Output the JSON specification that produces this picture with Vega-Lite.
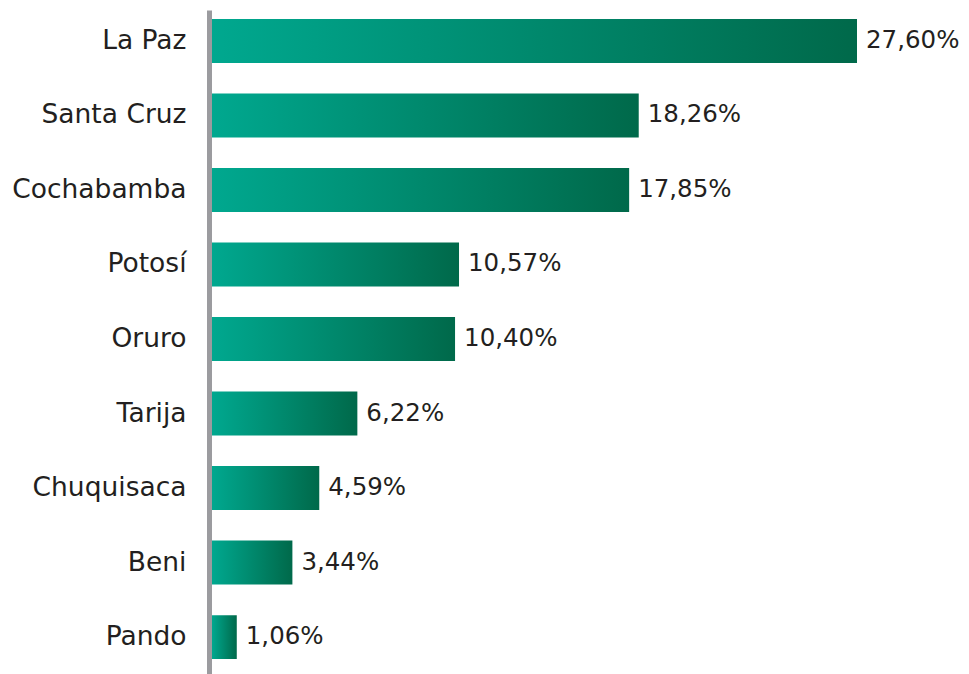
{
  "$schema": "https://vega.github.io/schema/vega-lite/v6.json",
  "width": 645,
  "height": 664,
  "autosize": "none",
  "padding": {"left": 212, "top": 10, "right": 112, "bottom": 0},
  "background": "white",
  "data": {"values": [
    {"dept": "La Paz", "value": 27.60, "label": "27,60%"},
    {"dept": "Santa Cruz", "value": 18.26, "label": "18,26%"},
    {"dept": "Cochabamba", "value": 17.85, "label": "17,85%"},
    {"dept": "Potosí", "value": 10.57, "label": "10,57%"},
    {"dept": "Oruro", "value": 10.40, "label": "10,40%"},
    {"dept": "Tarija", "value": 6.22, "label": "6,22%"},
    {"dept": "Chuquisaca", "value": 4.59, "label": "4,59%"},
    {"dept": "Beni", "value": 3.44, "label": "3,44%"},
    {"dept": "Pando", "value": 1.06, "label": "1,06%"}
  ]},
  "encoding": {
    "y": {"field": "dept", "type": "nominal", "sort": null,
      "scale": {"paddingInner": 0.41, "paddingOuter": 0.16, "align": 0.375},
      "axis": {"title": null, "ticks": false, "domain": true, "domainColor": "#9b9b9f", "domainWidth": 5, "offset": 3,
        "labelFont": "DejaVu Sans", "labelFontSize": 26.5, "labelColor": "#231f20", "labelPadding": 23}},
    "x": {"field": "value", "type": "quantitative",
      "scale": {"domain": [0, 27.6], "nice": false},
      "axis": null}
  },
  "layer": [
    {"mark": {"type": "bar", "color": {"gradient": "linear", "x1": 0, "y1": 0, "x2": 1, "y2": 0,
      "stops": [{"offset": 0, "color": "#00a88f"}, {"offset": 1, "color": "#00694a"}]}}},
    {"mark": {"type": "text", "align": "left", "baseline": "middle", "dx": 9, "font": "DejaVu Sans", "fontSize": 24.5, "color": "#231f20"},
     "encoding": {"text": {"field": "label"}}}
  ],
  "config": {"view": {"stroke": null}}
}
